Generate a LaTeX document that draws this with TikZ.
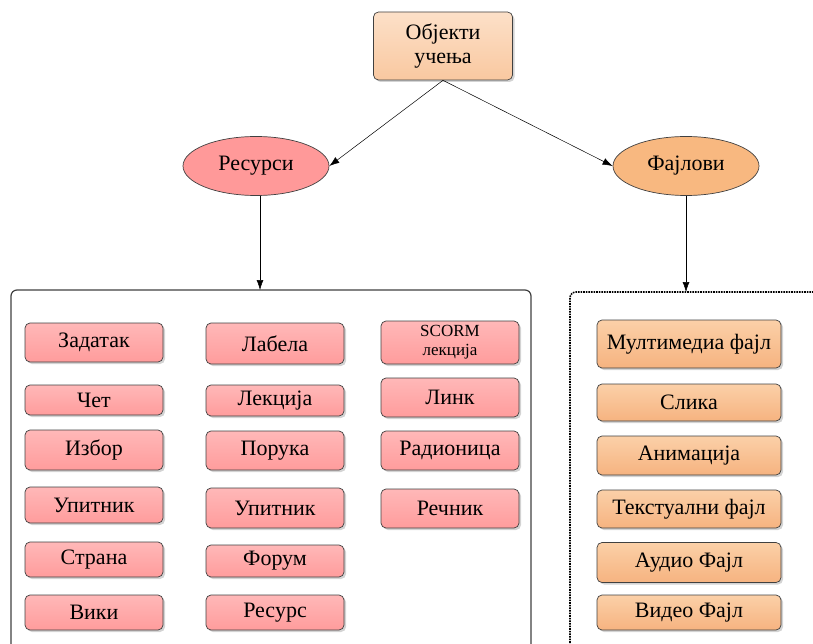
\documentclass[tikz,border=0pt]{standalone}
\usepackage{fontspec}
\setmainfont{Liberation Serif}
\newfontfamily\boxfont{Liberation Serif}
\usetikzlibrary{arrows.meta,shadows,shapes.geometric}

\definecolor{pinktop}{HTML}{FFB8B8}
\definecolor{pinkbot}{HTML}{FF9C9C}
\definecolor{orangetop}{HTML}{FBD0A8}
\definecolor{orangebot}{HTML}{F6B380}
\definecolor{peachtop}{HTML}{FCE0C8}
\definecolor{peachbot}{HTML}{F9C8A0}
\definecolor{resfill}{HTML}{FF9999}
\definecolor{filefill}{HTML}{F8B880}
\definecolor{edge}{HTML}{404040}

\begin{document}
\begin{tikzpicture}[x=1pt,y=-1pt,
    box/.style={draw=edge, line width=0.7pt, rounded corners=5pt, inner sep=0pt,
        minimum width=138pt, font=\boxfont\fontsize{22}{25}\selectfont,
        drop shadow={shadow xshift=2pt, shadow yshift=-2pt, opacity=0.35}},
    resbox/.style={box, top color=pinktop, bottom color=pinkbot},
    filebox/.style={box, top color=orangetop, bottom color=orangebot, minimum width=184pt},
    oval/.style={ellipse, draw=edge, line width=0.7pt, minimum width=146pt, minimum height=59pt,
        inner sep=0pt, font=\boxfont\fontsize{22}{25}\selectfont},
    link/.style={-{Latex[length=10pt,width=7pt]}, line width=0.5pt}]

    \useasboundingbox (0,0) rectangle (813,644);
    \clip (0,0) rectangle (813,644);

    % vrh
    \node[box, top color=peachtop, bottom color=peachbot, minimum width=139pt, minimum height=68pt,
        align=center] (objekti) at (443,46) {Објекти\\[-1pt]учења};

    \node[oval, fill=resfill] (resursi) at (256,166) {Ресурси};
    \node[oval, fill=filefill] (fajlovi) at (686,166) {Фајлови};

    \draw[link] (objekti.south) -- (resursi.east);
    \draw[link] (objekti.south) -- (fajlovi.west);

    % okviri
    \draw[edge, line width=1.2pt, rounded corners=6pt] (11,700) -- (11,290) -- (531,290) -- (531,700);
    \draw[black, line width=1.6pt, densely dotted, rounded corners=6pt] (570,700) -- (570,292) -- (830,292);
    \coordinate (resgore) at (260,290);
    \coordinate (fajlgore) at (686,292);

    \draw[link] (resursi.south -| resgore) -- (resgore);
    \draw[link] (fajlovi.south) -- (fajlgore);

    % resursi
    \node[resbox, minimum height=39pt] (zadatak) at (94,342.5) {Задатак};
    \node[resbox, minimum height=30pt] (cet) at (94,400) {Чет};
    \node[resbox, minimum height=40pt] (izbor) at (94,450) {Избор};
    \node[resbox, minimum height=36pt] (upitnik) at (94,505) {Упитник};
    \node[resbox, minimum height=35pt] (strana) at (94,559.5) {Страна};
    \node[resbox, minimum height=35pt] (viki) at (94,612.5) {Вики};

    \node[resbox, minimum height=41pt] (labela) at (275,343.5) {Лабела};
    \node[resbox, minimum height=31pt] (lekcija) at (275,400.5) {Лекција};
    \node[resbox, minimum height=39pt] (poruka) at (275,450.5) {Порука};
    \node[resbox, minimum height=40pt] (upitnikb) at (275,508) {Упитник};
    \node[resbox, minimum height=32pt] (forum) at (275,561) {Форум};
    \node[resbox, minimum height=35pt] (resurs) at (275,612.5) {Ресурс};

    \node[resbox, minimum height=43pt, align=center, font=\boxfont\fontsize{17}{19}\selectfont]
        (scorm) at (450,342.5) {SCORM\\лекција};
    \node[resbox, minimum height=39pt] (link) at (450,397.5) {Линк};
    \node[resbox, minimum height=39pt] (radionica) at (450,450.5) {Радионица};
    \node[resbox, minimum height=39pt] (recnik) at (450,508.5) {Речник};

    % fajlovi
    \node[filebox, minimum height=48pt] (multimedija) at (689,344) {Мултимедиа фајл};
    \node[filebox, minimum height=37pt] (slika) at (689,402.5) {Слика};
    \node[filebox, minimum height=39pt] (animacija) at (689,455.5) {Анимација};
    \node[filebox, minimum height=38pt] (tekst) at (689,509) {Текстуални фајл};
    \node[filebox, minimum height=40pt] (audio) at (689,562.5) {Аудио Фајл};
    \node[filebox, minimum height=35pt] (video) at (689,612.5) {Видео Фајл};

\end{tikzpicture}
\end{document}
